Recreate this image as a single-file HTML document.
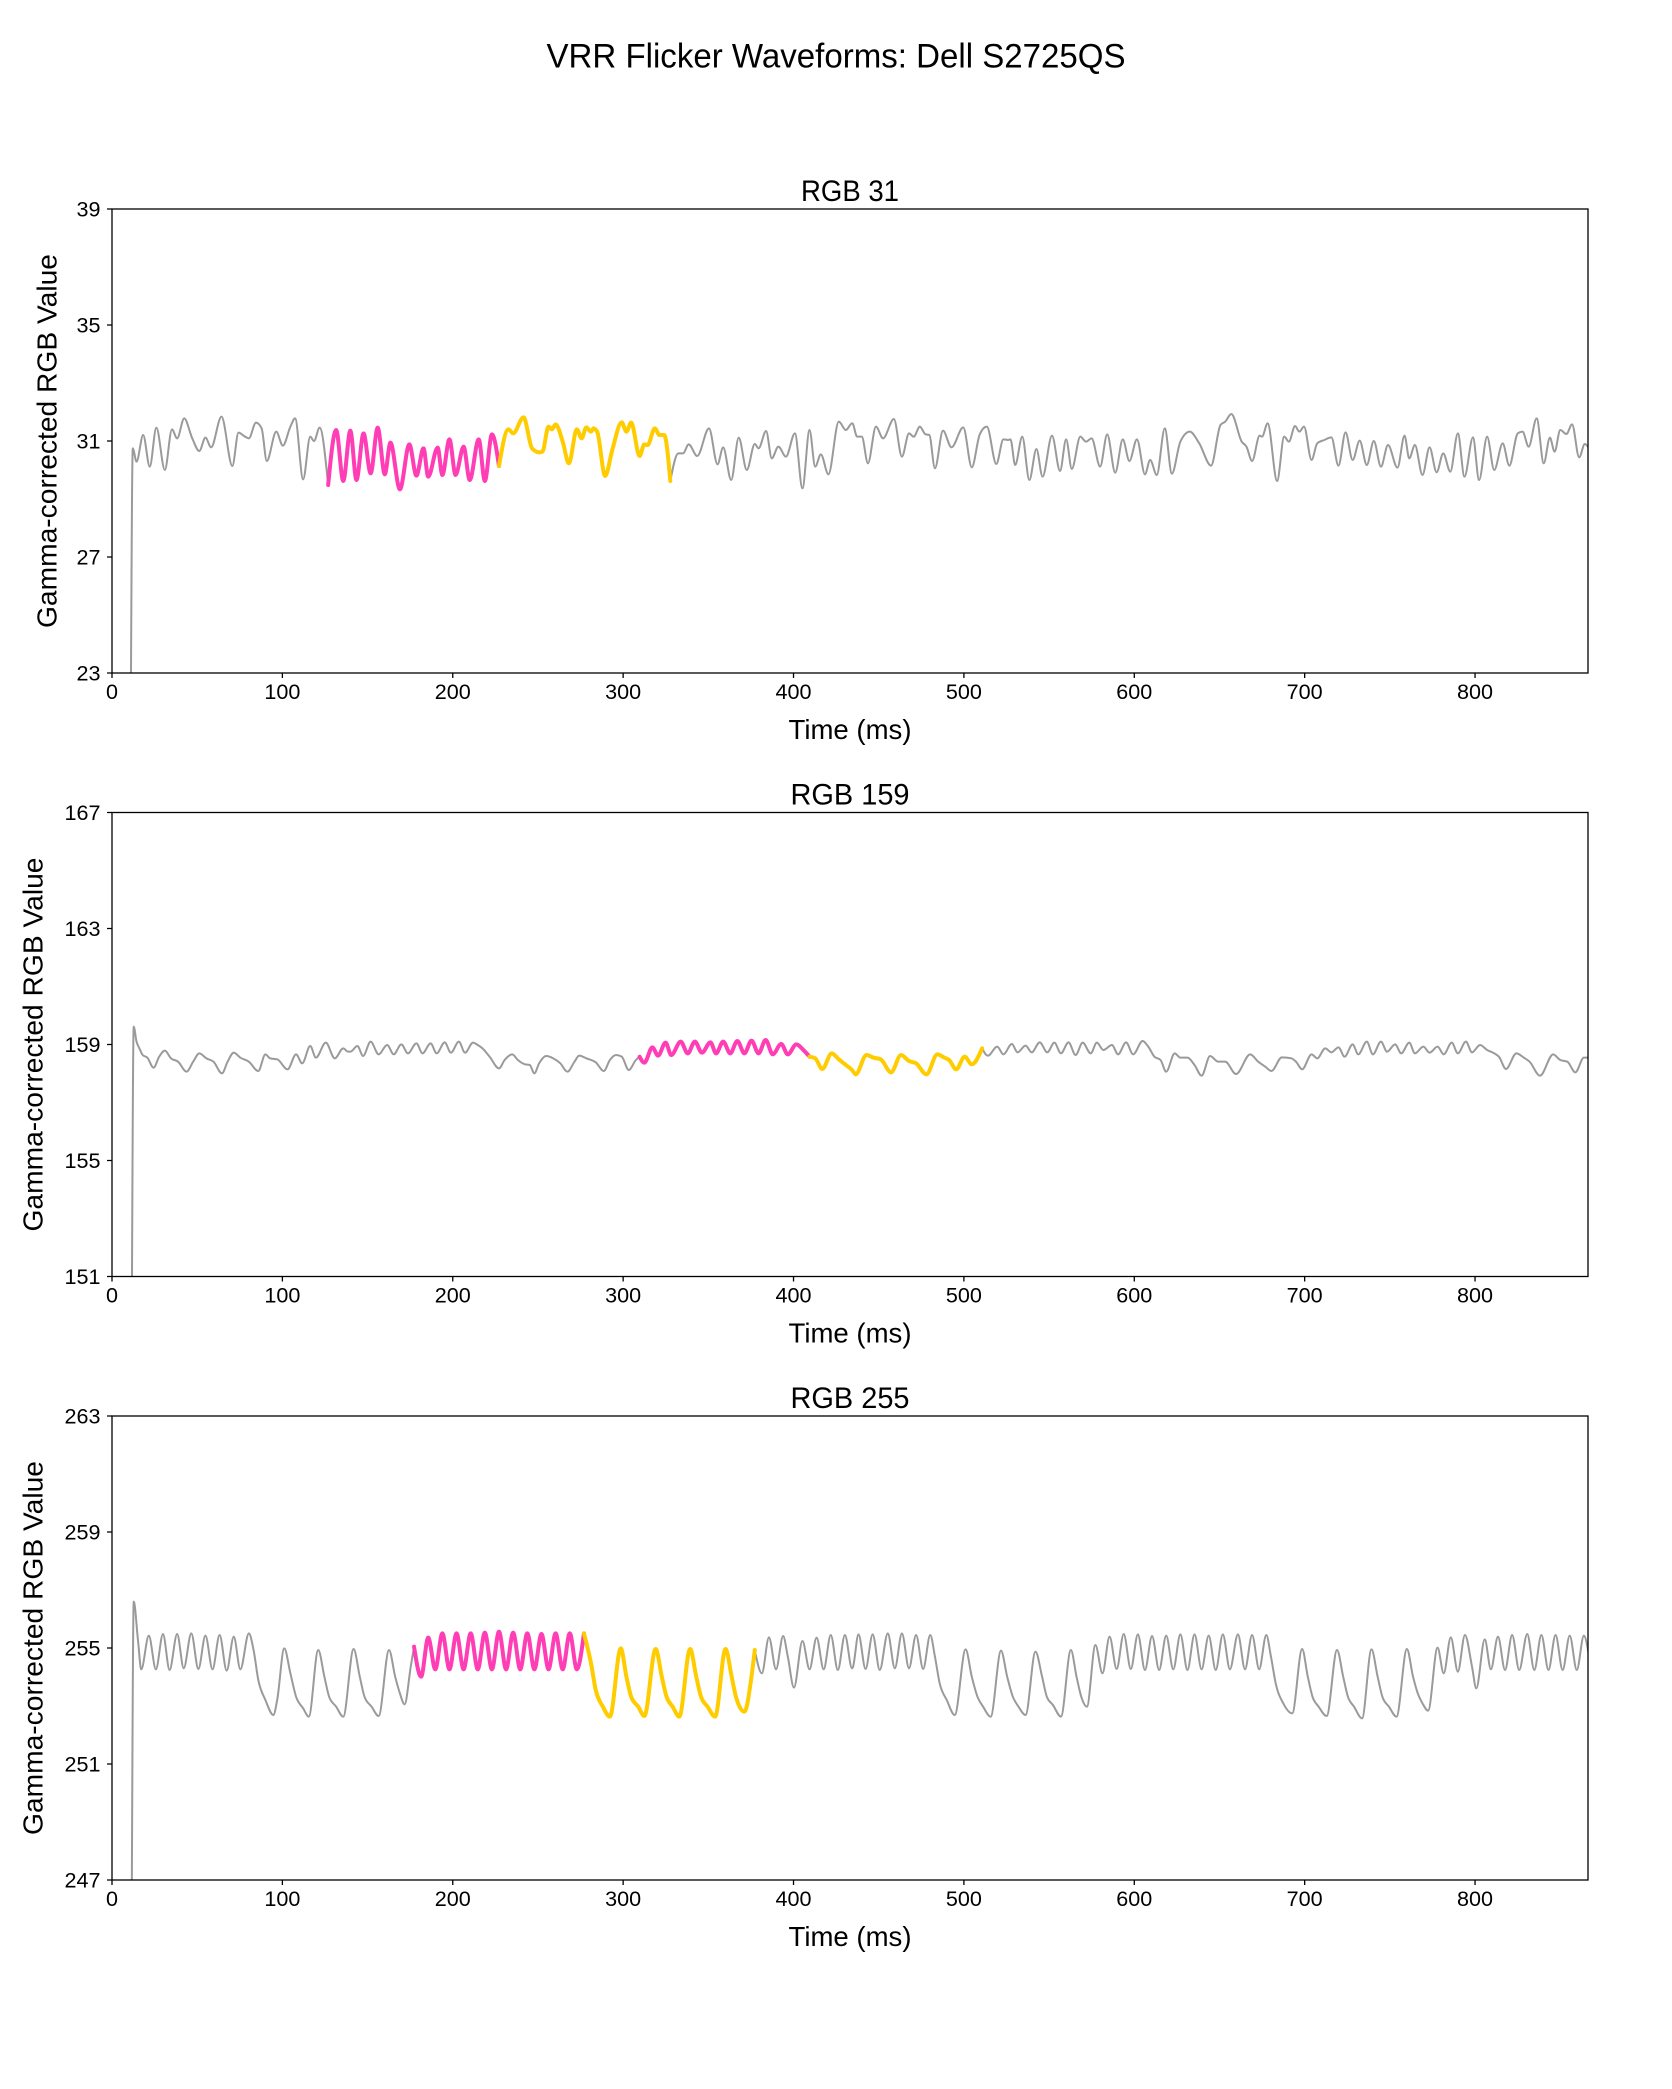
<!DOCTYPE html>
<html><head><meta charset="utf-8">
<style>
html,body{margin:0;padding:0;background:#fff;}
svg{display:block;}
text{font-family:"Liberation Sans","DejaVu Sans",sans-serif;fill:#000;}
</style></head><body>
<svg id="s" xmlns="http://www.w3.org/2000/svg" width="1672" height="2089" viewBox="0 0 1672 2089">
<defs><clipPath id="cp"><rect x="112" y="209" width="1476" height="464"/></clipPath></defs>
<rect width="1672" height="2089" fill="#fff"/>
<text x="836" y="67.7" font-size="34" text-anchor="middle" textLength="579" lengthAdjust="spacingAndGlyphs">VRR Flicker Waveforms: Dell S2725QS</text>

<!-- Plot 1 -->
<g transform="translate(0,0)">
<text x="850" y="201" font-size="29.5" text-anchor="middle" textLength="98" lengthAdjust="spacingAndGlyphs">RGB 31</text>
<path d="M107 209H112M107 325H112M107 441H112M107 557H112M107 673H112M112 673V678M282.38 673V678M452.76 673V678M623.14 673V678M793.52 673V678M963.9 673V678M1134.28 673V678M1304.66 673V678M1475.04 673V678" stroke="#000" stroke-width="1.3" fill="none"/>
<g font-size="21" text-anchor="end">
<text x="100.5" y="216.5" textLength="24" lengthAdjust="spacingAndGlyphs">39</text>
<text x="100.5" y="332.5" textLength="24" lengthAdjust="spacingAndGlyphs">35</text>
<text x="100.5" y="448.5" textLength="24" lengthAdjust="spacingAndGlyphs">31</text>
<text x="100.5" y="564.5" textLength="24" lengthAdjust="spacingAndGlyphs">27</text>
<text x="100.5" y="680.5" textLength="24" lengthAdjust="spacingAndGlyphs">23</text>
</g>
<g font-size="21" text-anchor="middle">
<text x="112" y="699" textLength="12" lengthAdjust="spacingAndGlyphs">0</text>
<text x="282.38" y="699" textLength="36" lengthAdjust="spacingAndGlyphs">100</text>
<text x="452.76" y="699" textLength="36" lengthAdjust="spacingAndGlyphs">200</text>
<text x="623.14" y="699" textLength="36" lengthAdjust="spacingAndGlyphs">300</text>
<text x="793.52" y="699" textLength="36" lengthAdjust="spacingAndGlyphs">400</text>
<text x="963.9" y="699" textLength="36" lengthAdjust="spacingAndGlyphs">500</text>
<text x="1134.28" y="699" textLength="36" lengthAdjust="spacingAndGlyphs">600</text>
<text x="1304.66" y="699" textLength="36" lengthAdjust="spacingAndGlyphs">700</text>
<text x="1475.04" y="699" textLength="36" lengthAdjust="spacingAndGlyphs">800</text>
</g>
<text x="850" y="739" font-size="28" text-anchor="middle" textLength="123" lengthAdjust="spacingAndGlyphs">Time (ms)</text>
<text transform="translate(56.6,441) rotate(-90)" font-size="28" text-anchor="middle" textLength="374" lengthAdjust="spacingAndGlyphs">Gamma-corrected RGB Value</text>
<g clip-path="url(#cp)" id="l0" fill="none" stroke-linejoin="round"></g>
<rect x="112" y="209" width="1476" height="464" fill="none" stroke="#000" stroke-width="1.3"/>
</g>

<!-- Plot 2 -->
<g transform="translate(0,603.5)">
<text x="850" y="201" font-size="29.5" text-anchor="middle" textLength="119" lengthAdjust="spacingAndGlyphs">RGB 159</text>
<path d="M107 209H112M107 325H112M107 441H112M107 557H112M107 673H112M112 673V678M282.38 673V678M452.76 673V678M623.14 673V678M793.52 673V678M963.9 673V678M1134.28 673V678M1304.66 673V678M1475.04 673V678" stroke="#000" stroke-width="1.3" fill="none"/>
<g font-size="21" text-anchor="end">
<text x="100.5" y="216.5" textLength="36" lengthAdjust="spacingAndGlyphs">167</text>
<text x="100.5" y="332.5" textLength="36" lengthAdjust="spacingAndGlyphs">163</text>
<text x="100.5" y="448.5" textLength="36" lengthAdjust="spacingAndGlyphs">159</text>
<text x="100.5" y="564.5" textLength="36" lengthAdjust="spacingAndGlyphs">155</text>
<text x="100.5" y="680.5" textLength="36" lengthAdjust="spacingAndGlyphs">151</text>
</g>
<g font-size="21" text-anchor="middle">
<text x="112" y="699" textLength="12" lengthAdjust="spacingAndGlyphs">0</text>
<text x="282.38" y="699" textLength="36" lengthAdjust="spacingAndGlyphs">100</text>
<text x="452.76" y="699" textLength="36" lengthAdjust="spacingAndGlyphs">200</text>
<text x="623.14" y="699" textLength="36" lengthAdjust="spacingAndGlyphs">300</text>
<text x="793.52" y="699" textLength="36" lengthAdjust="spacingAndGlyphs">400</text>
<text x="963.9" y="699" textLength="36" lengthAdjust="spacingAndGlyphs">500</text>
<text x="1134.28" y="699" textLength="36" lengthAdjust="spacingAndGlyphs">600</text>
<text x="1304.66" y="699" textLength="36" lengthAdjust="spacingAndGlyphs">700</text>
<text x="1475.04" y="699" textLength="36" lengthAdjust="spacingAndGlyphs">800</text>
</g>
<text x="850" y="739" font-size="28" text-anchor="middle" textLength="123" lengthAdjust="spacingAndGlyphs">Time (ms)</text>
<text transform="translate(42.7,441) rotate(-90)" font-size="28" text-anchor="middle" textLength="374" lengthAdjust="spacingAndGlyphs">Gamma-corrected RGB Value</text>
<g clip-path="url(#cp)" id="l1" fill="none" stroke-linejoin="round"></g>
<rect x="112" y="209" width="1476" height="464" fill="none" stroke="#000" stroke-width="1.3"/>
</g>

<!-- Plot 3 -->
<g transform="translate(0,1207)">
<text x="850" y="201" font-size="29.5" text-anchor="middle" textLength="119" lengthAdjust="spacingAndGlyphs">RGB 255</text>
<path d="M107 209H112M107 325H112M107 441H112M107 557H112M107 673H112M112 673V678M282.38 673V678M452.76 673V678M623.14 673V678M793.52 673V678M963.9 673V678M1134.28 673V678M1304.66 673V678M1475.04 673V678" stroke="#000" stroke-width="1.3" fill="none"/>
<g font-size="21" text-anchor="end">
<text x="100.5" y="216.5" textLength="36" lengthAdjust="spacingAndGlyphs">263</text>
<text x="100.5" y="332.5" textLength="36" lengthAdjust="spacingAndGlyphs">259</text>
<text x="100.5" y="448.5" textLength="36" lengthAdjust="spacingAndGlyphs">255</text>
<text x="100.5" y="564.5" textLength="36" lengthAdjust="spacingAndGlyphs">251</text>
<text x="100.5" y="680.5" textLength="36" lengthAdjust="spacingAndGlyphs">247</text>
</g>
<g font-size="21" text-anchor="middle">
<text x="112" y="699" textLength="12" lengthAdjust="spacingAndGlyphs">0</text>
<text x="282.38" y="699" textLength="36" lengthAdjust="spacingAndGlyphs">100</text>
<text x="452.76" y="699" textLength="36" lengthAdjust="spacingAndGlyphs">200</text>
<text x="623.14" y="699" textLength="36" lengthAdjust="spacingAndGlyphs">300</text>
<text x="793.52" y="699" textLength="36" lengthAdjust="spacingAndGlyphs">400</text>
<text x="963.9" y="699" textLength="36" lengthAdjust="spacingAndGlyphs">500</text>
<text x="1134.28" y="699" textLength="36" lengthAdjust="spacingAndGlyphs">600</text>
<text x="1304.66" y="699" textLength="36" lengthAdjust="spacingAndGlyphs">700</text>
<text x="1475.04" y="699" textLength="36" lengthAdjust="spacingAndGlyphs">800</text>
</g>
<text x="850" y="739" font-size="28" text-anchor="middle" textLength="123" lengthAdjust="spacingAndGlyphs">Time (ms)</text>
<text transform="translate(42.7,441) rotate(-90)" font-size="28" text-anchor="middle" textLength="374" lengthAdjust="spacingAndGlyphs">Gamma-corrected RGB Value</text>
<g clip-path="url(#cp)" id="l2" fill="none" stroke-linejoin="round"></g>
<rect x="112" y="209" width="1476" height="464" fill="none" stroke="#000" stroke-width="1.3"/>
</g>
</svg>
<script>
(function(){
var K=740/1568, GRAY='#9a9a9a', PINK='#ff3db4', YEL='#ffcc00';
var plots=[
{dy:0,cy:395,segs:[
 {c:GRAY,w:2,parts:[['L',[40,900,44,160,52,200,66,120,80,215,94,98,112,225,127,103,138,130,153,70,170,130,185,168,198,128,210,157,232,65,255,213,268,113,282,125,290,130,305,83,317,100,328,198,348,110,362,152,378,95,388,70,405,253,420,125,428,138,440,98,458,270]]]},
 {c:GRAY,w:2,parts:[['L',[1183,258,1200,175,1210,175,1222,148,1240,183,1265,100,1283,208,1295,157,1312,255,1328,128,1345,225,1362,147,1370,160,1386,108,1398,190,1412,155,1428,185,1447,115,1463,280,1478,105,1490,215,1502,178,1518,238,1540,80,1555,105,1568,85]],
  ['R',[5,85,15,125,25,125,38,205,55,95,70,130,93,72,110,185,125,115,135,125,148,95,160,118,168,120,180,220,197,107,215,157,240,97,258,217,275,118,290,95,310,207,325,133,335,135,340,133,350,210,365,125,380,255,395,162,408,245,428,122,445,228,458,133,470,222,488,125,500,140,512,130,530,215,545,118,562,233,578,133,592,198,608,133,625,238,636,195,650,240,667,100,682,236,700,140,720,110,740,145,765,212,785,90,795,80,808,57,830,140,840,155,852,198,868,122,873,125,885,85,905,258,920,125,930,140,943,93,952,110,962,95,978,195,990,145,1005,135,1020,127,1035,212,1050,112,1065,195,1080,137,1095,210,1110,138,1125,215,1140,150,1160,218,1175,122,1185,190,1197,150,1213,240,1228,157,1243,232,1257,175,1272,230,1288,115,1302,245,1320,127,1333,255,1350,125,1365,225,1383,145,1397,212,1415,115,1425,110,1438,155,1455,70,1470,205,1483,128,1493,170,1505,105,1518,117,1530,88,1545,187,1557,147,1566,160]]]},
 {c:PINK,w:4,parts:[['L',[458,270,475,105,490,258,505,107,518,255,533,115,548,235,563,98,578,238,590,143,610,283,630,148,645,242,660,160,670,245,690,158,700,240,715,133,728,240,745,155,758,255,777,133,790,258,805,118,820,213]]]},
 {c:YEL,w:4,parts:[['L',[820,213,840,103,850,115,872,67,890,160,905,172,912,170,925,95,932,103,940,88,955,140,968,205,985,103,995,130,1005,97,1015,110,1020,100,1028,110,1045,243,1060,165,1080,82,1090,110,1100,83,1118,183,1128,148,1135,150,1150,100,1160,120,1170,120,1183,258]]]}
]},
{dy:603.5,cy:1015,segs:[
 {c:GRAY,w:2,parts:[['L',[42,900,46,35,52,80,58,100,65,120,75,128,88,158,100,125,112,107,125,130,140,140,158,170,172,140,185,115,200,130,215,140,233,175,245,140,258,113,272,128,290,140,310,168,325,118,335,130,350,133,372,163,390,118,403,145,420,93,432,128,453,83,472,130,490,100,500,110,505,110,520,93,532,123,548,80,565,118,583,90,597,118,613,88,627,115,645,85,658,115,675,85,688,115,705,82,718,113,735,80,748,113,765,83,775,90,785,100,800,125,820,160,832,135,848,118,860,135,875,148,885,150,895,175,905,145,920,123,935,130,950,145,965,170,980,140,990,122,1005,130,1025,142,1042,168,1055,135,1068,120,1080,125,1095,165,1110,135,1118,125]]]},
 {c:GRAY,w:2,parts:[['R',[280,100,292,122,312,95,325,118,343,87,355,112,372,92,385,112,402,82,418,112,433,83,447,115,463,82,478,120,493,83,510,115,523,83,537,105,555,90,568,118,585,82,600,118,620,78,632,95,645,125,658,135,670,170,688,115,700,128,715,128,730,150,745,182,763,123,780,140,795,140,818,177,848,118,865,140,880,155,893,168,915,127,935,130,945,140,958,163,978,118,990,130,1007,100,1020,112,1035,97,1048,125,1065,88,1077,118,1095,80,1108,118,1125,80,1138,110,1155,88,1168,115,1185,83,1197,115,1215,95,1228,113,1245,95,1258,118,1275,83,1288,115,1305,80,1318,112,1335,90,1350,105,1365,115,1375,125,1390,162,1412,115,1428,128,1440,140,1462,182,1490,118,1505,135,1520,140,1537,172,1555,128,1566,128]]]},
 {c:PINK,w:4,parts:[['L',[1118,125,1128,143,1145,97,1157,122,1173,83,1185,120,1205,80,1220,115,1235,80,1250,113,1268,82,1280,115,1295,80,1310,115,1325,78,1340,115,1355,77,1370,115,1385,75,1400,118,1418,87,1432,118,1450,88,1465,105,1478,125]]]},
 {c:YEL,w:4,parts:[['L',[1478,125,1490,130,1505,162,1525,115,1540,133,1555,150,1568,165]],['R',[6,168,12,178,35,120,50,128,65,133,87,172,108,120,125,138,140,145,162,178,185,118,200,128,210,135,225,163,243,125,258,148,280,100]]]}
]},
{dy:1207,cy:1590,segs:[
 {c:GRAY,w:2,parts:[['L',[42,900,46,35,55,150,62,238,78,137,93,238,108,132,122,240,138,132,152,235,168,130,183,237,198,137,213,238,228,135,243,242,258,140,272,238,290,130,300,180,310,270,325,330,342,375,350,330,365,175,378,250,390,320,405,355,417,380,437,180,450,260,460,320,475,350,490,380,512,177,525,260,535,320,550,350,565,378,587,180,600,260,610,310,620,343,633,230,640,170]]]},
 {c:GRAY,w:2,parts:[['L',[1362,180,1377,250,1392,142,1407,238,1422,138,1432,200,1445,293,1463,153,1478,238,1493,143,1508,238,1523,135,1538,240,1553,135,1568,235]],
  ['R',[6,232,18,133,33,237,48,133,63,240,80,130,95,235,110,130,125,235,140,135,155,237,170,135,180,200,190,280,205,330,222,375,245,178,258,260,270,320,282,350,298,380,320,182,333,260,345,320,357,350,372,375,393,185,407,260,417,320,430,345,447,380,468,180,480,260,490,320,502,350,520,165,535,250,550,140,565,237,580,132,595,237,610,133,625,240,640,138,655,240,670,137,685,238,700,133,715,240,730,133,745,238,760,137,775,240,790,133,805,238,822,133,837,238,852,135,867,238,882,135,892,200,902,280,918,340,937,370,958,177,970,260,980,320,993,350,1010,378,1032,180,1045,260,1055,320,1068,350,1085,385,1105,178,1118,260,1128,320,1142,350,1158,380,1180,177,1193,260,1203,310,1213,340,1225,362,1245,173,1258,250,1273,142,1288,245,1303,135,1318,230,1327,295,1345,148,1358,238,1373,140,1388,240,1403,135,1418,240,1435,132,1450,240,1465,135,1480,240,1495,135,1510,240,1525,137,1540,240,1555,137,1566,200]]]},
 {c:PINK,w:4,parts:[['L',[640,170,655,260,670,143,685,238,700,130,715,238,730,130,745,238,760,130,775,238,790,128,805,238,820,125,835,238,850,128,865,238,880,130,895,238,910,132,925,238,940,130,955,238,970,130,985,238,1000,130]]]},
 {c:YEL,w:4,parts:[['L',[1000,130,1015,220,1025,300,1040,350,1055,380,1078,175,1090,260,1100,320,1115,350,1128,378,1152,177,1165,260,1175,320,1188,350,1202,380,1225,177,1238,260,1248,320,1262,350,1278,380,1300,177,1313,260,1322,320,1340,365,1355,260,1362,180]]]}
]}
];
function sgn(x){return x<0?-1:1;}
function slope3(p0,p1,p2){var h0=p1[0]-p0[0],h1=p2[0]-p1[0];var s0=(p1[1]-p0[1])/h0,s1=(p2[1]-p1[1])/h1;var p=(s0*h1+s1*h0)/(h0+h1);return (sgn(s0)+sgn(s1))*Math.min(Math.abs(s0),Math.abs(s1),0.5*Math.abs(p))||0;}
function mono(pts){
 var p=[];for(var i=0;i<pts.length;i++){if(!p.length||pts[i][0]>p[p.length-1][0]+1e-6)p.push(pts[i]);}
 var n=p.length;if(n<2)return '';
 var m=new Array(n);
 for(var i=1;i<n-1;i++)m[i]=slope3(p[i-1],p[i],p[i+1]);
 m[0]=(p[1][1]-p[0][1])/(p[1][0]-p[0][0]);
 m[n-1]=(p[n-1][1]-p[n-2][1])/(p[n-1][0]-p[n-2][0]);
 if(n>2){m[0]=0.5*(3*m[0]-m[1]);var s=(p[n-1][1]-p[n-2][1])/(p[n-1][0]-p[n-2][0]);m[n-1]=0.5*(3*s-m[n-2]);}
 var d='M'+p[0][0].toFixed(2)+' '+p[0][1].toFixed(2);
 for(var i=0;i<n-1;i++){var dx=(p[i+1][0]-p[i][0])/3;
  d+='C'+(p[i][0]+dx).toFixed(2)+' '+(p[i][1]+dx*m[i]).toFixed(2)+' '+(p[i+1][0]-dx).toFixed(2)+' '+(p[i+1][1]-dx*m[i+1]).toFixed(2)+' '+p[i+1][0].toFixed(2)+' '+p[i+1][1].toFixed(2);}
 return d;
}
var NS='http://www.w3.org/2000/svg';
plots.forEach(function(pl,k){
 var g=document.getElementById('l'+k);
 pl.segs.forEach(function(sg){
  var pts=[];
  sg.parts.forEach(function(pt){var x0=pt[0]==='L'?112:850,a=pt[1];for(var i=0;i<a.length;i+=2)pts.push([x0+a[i]*K,pl.cy+a[i+1]/3-pl.dy]);});
  var path=document.createElementNS(NS,'path');
  path.setAttribute('d',mono(pts));
  path.setAttribute('stroke',sg.c);
  path.setAttribute('stroke-width',sg.w);
  path.setAttribute('fill','none');
  path.setAttribute('stroke-linejoin','round');
  path.setAttribute('stroke-linecap','round');
  g.appendChild(path);
 });
});
})();
</script>
</body></html>
